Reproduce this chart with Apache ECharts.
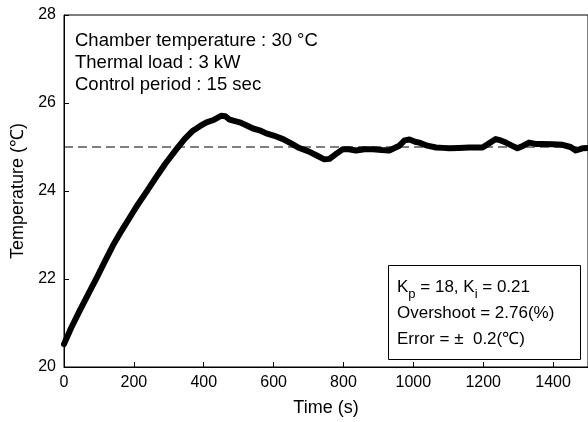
<!DOCTYPE html>
<html>
<head>
<meta charset="utf-8">
<script src="https://cdn.jsdelivr.net/npm/echarts@6/dist/echarts.min.js"></script>
<style>html,body{margin:0;padding:0;background:#fff}#c{width:588px;height:422px}</style>
</head>
<body>
<div id="c"></div>
<script>
// ---- data ----
const timeSec = [0,20,45,69,95,117,140,165,190,212,236,260,290,322,345,369,390,408,430,450,462,474,503,520,541,560,579,600,627,650,670,700,725,745,760,780,798,815,836,860,884,910,931,960,975,989,1005,1017,1040,1065,1085,1103,1130,1160,1198,1220,1236,1250,1265,1285,1298,1315,1331,1350,1370,1400,1427,1450,1465,1484,1500];
const tempC = [20.52,20.88,21.28,21.65,22.05,22.4,22.76,23.1,23.42,23.7,23.98,24.27,24.62,24.95,25.18,25.37,25.48,25.56,25.62,25.71,25.70,25.62,25.56,25.50,25.42,25.38,25.31,25.26,25.18,25.08,24.99,24.90,24.80,24.72,24.73,24.85,24.95,24.95,24.92,24.95,24.95,24.93,24.92,25.03,25.15,25.17,25.12,25.10,25.03,24.99,24.98,24.97,24.98,24.99,24.99,25.10,25.18,25.15,25.10,25.02,24.97,25.03,25.10,25.07,25.07,25.06,25.05,25.00,24.92,24.97,24.98];
const refTime = [0, 1500];
const refTemp = [25, 25];
const xTicks = [0,200,400,600,800,1000,1200,1400];
const yTicks = [20,22,24,26,28];
const infoLines = ['Chamber temperature : 30 °C','Thermal load : 3 kW','Control period : 15 sec'];
const boxLines = ['{a|K}{s|p}{a| = 18, K}{s|i}{a| = 0.21}','{a|Overshoot = 2.76(%)}','{a|Error = ±  0.2(℃)}'];
const xName = 'Time (s)';
const yName = 'Temperature (℃)';

const FONT = 'Liberation Sans, Arial, sans-serif';
const chart = echarts.init(document.getElementById('c'));
const graphics = [];
infoLines.forEach((t,i)=>{
  graphics.push({type:'text', left:75, top:31+i*22, style:{text:t, font:'18.5px '+FONT, fill:'#000'}});
});
graphics.push({type:'rect', shape:{x:388.5,y:265.5,width:192,height:94}, style:{fill:'#fff', stroke:'#000', lineWidth:1}, z:10});
boxLines.forEach((t,i)=>{
  graphics.push({type:'text', left:397, top:279+i*26, z:11, style:{text:t, fill:'#000',
    rich:{a:{fontSize:17, fontFamily:FONT, fill:'#000', verticalAlign:'bottom'}, s:{fontSize:13, fontFamily:FONT, fill:'#000', verticalAlign:'bottom', padding:[0,0,-5,0]}}}});
});

chart.setOption({
  animation:false,
  backgroundColor:'#fff',
  grid:{left:64, right:0, top:15, bottom:54, show:true, borderColor:'#000', borderWidth:1},
  xAxis:{type:'value', min:0, max:1500, interval:200,
    name:xName, nameLocation:'middle', nameGap:32, nameTextStyle:{fontSize:18, fontFamily:FONT, color:'#000'},
    axisLine:{lineStyle:{color:'#000'}}, axisTick:{inside:true, length:5, lineStyle:{color:'#000'}},
    axisLabel:{fontSize:16, fontFamily:FONT, color:'#000', margin:8, showMaxLabel:false,
      formatter:v=> xTicks.includes(v)? String(v):''},
    splitLine:{show:false}},
  yAxis:{type:'value', min:20, max:28, interval:2,
    name:yName, nameLocation:'middle', nameGap:35, nameTextStyle:{fontSize:18, fontFamily:FONT, color:'#000'},
    axisLine:{lineStyle:{color:'#000'}}, axisTick:{inside:true, length:5, lineStyle:{color:'#000'}},
    axisLabel:{fontSize:16, fontFamily:FONT, color:'#000', margin:8,
      formatter:v=> yTicks.includes(v)? String(v):''},
    splitLine:{show:false}},
  series:[
    {type:'line', data:refTime.map((t,i)=>[t,refTemp[i]]), symbol:'none', silent:true,
      lineStyle:{color:'#000', width:1, type:[9,5]}, z:1},
    {type:'line', data:timeSec.map((t,i)=>[t,tempC[i]]), symbol:'none',
      lineStyle:{color:'#000', width:6, join:'round', cap:'round'}, z:2}
  ],
  graphic:graphics
});
</script>
</body>
</html>
